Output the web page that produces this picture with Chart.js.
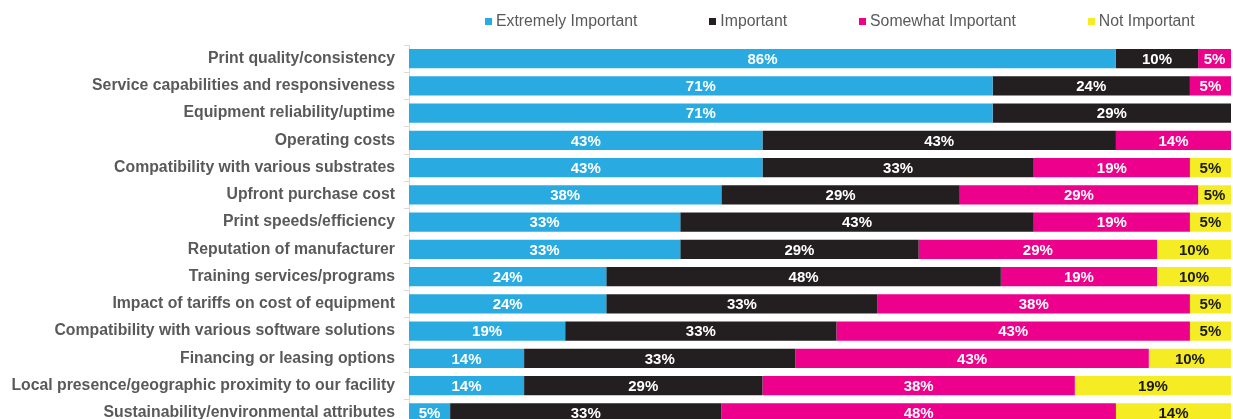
<!DOCTYPE html>
<html>
<head>
<meta charset="utf-8">
<title>Purchase factors</title>
<script src="https://cdn.jsdelivr.net/npm/chart.js@4.4.4/dist/chart.umd.min.js"></script>
<style>
  html, body { margin: 0; padding: 0; background: #fff; overflow: hidden; }
  #wrap { position: relative; width: 1233px; height: 419px; overflow: hidden; }
  #chart { position: absolute; left: 0; top: 0; }
  #legend {
    position: absolute; left: 485px; top: 11px; display: flex; align-items: center;
    font: 15.8px "Liberation Sans", Arial, sans-serif; color: #595959; line-height: 20px;
  }
  #legend .item { display: flex; align-items: center; margin-right: 72px; white-space: nowrap; }
  #legend .item:last-child { margin-right: 0; }
  #legend .sw { width: 7px; height: 7px; margin-right: 4px; }
</style>
</head>
<body>
<div id="wrap">
  <canvas id="chart" width="1233" height="445"></canvas>
  <div id="legend"></div>
</div>
<script>
/* ── Data ─────────────────────────────────────────────────────────── */
const CATEGORIES = [
  "Print quality/consistency",
  "Service capabilities and responsiveness",
  "Equipment reliability/uptime",
  "Operating costs",
  "Compatibility with various substrates",
  "Upfront purchase cost",
  "Print speeds/efficiency",
  "Reputation of manufacturer",
  "Training services/programs",
  "Impact of tariffs on cost of equipment",
  "Compatibility with various software solutions",
  "Financing or leasing options",
  "Local presence/geographic proximity to our facility",
  "Sustainability/environmental attributes"
];
const SERIES_NAMES = ["Extremely Important", "Important", "Somewhat Important", "Not Important"];
const EXTREMELY = [86, 71, 71, 43, 43, 38, 33, 33, 24, 24, 19, 14, 14, 5];
const IMPORTANT = [10, 24, 29, 43, 33, 29, 43, 29, 48, 33, 33, 33, 29, 33];
const SOMEWHAT  = [5, 5, null, 14, 19, 29, 19, 29, 19, 38, 43, 43, 38, 48];
const NOT_IMP   = [null, null, null, null, 5, 5, 5, 10, 10, 5, 5, 10, 19, 14];

const COLORS      = ["#29ABE2", "#231F20", "#EC008C", "#F5EC23"];
const LABEL_INK   = ["#FFFFFF", "#FFFFFF", "#FFFFFF", "#1A1A1A"];
const FONT_FAMILY = '"Liberation Sans", Arial, sans-serif';

/* ── Segment value labels ─────────────────────────────────────────── */
const segmentLabels = {
  id: "segmentLabels",
  afterDatasetsDraw(chart) {
    const { ctx, chartArea } = chart;
    ctx.save();
    ctx.font = "bold 15px " + FONT_FAMILY;
    ctx.textAlign = "center";
    ctx.textBaseline = "middle";
    chart.data.datasets.forEach((ds, di) => {
      chart.getDatasetMeta(di).data.forEach((bar, i) => {
        const v = ds.data[i];
        if (!v) return;
        const x1 = Math.max(Math.min(bar.base, bar.x), chartArea.left);
        const x2 = Math.min(Math.max(bar.base, bar.x), chartArea.right);
        ctx.fillStyle = LABEL_INK[di];
        ctx.fillText(v + "%", (x1 + x2) / 2, bar.y + 1);
      });
    });
    ctx.restore();
  }
};

/* ── Chart ────────────────────────────────────────────────────────── */
const seriesData = [EXTREMELY, IMPORTANT, SOMEWHAT, NOT_IMP];

const chart = new Chart(document.getElementById("chart"), {
  type: "bar",
  data: {
    labels: CATEGORIES,
    datasets: SERIES_NAMES.map((name, i) => ({
      label: name,
      data: seriesData[i],
      backgroundColor: COLORS[i],
      borderWidth: 0,
      categoryPercentage: 1,
      barPercentage: 0.7
    }))
  },
  options: {
    indexAxis: "y",
    responsive: false,
    animation: false,
    layout: { padding: { top: 45, bottom: 4, right: 2, left: 0 } },
    plugins: { legend: { display: false }, tooltip: { enabled: false } },
    scales: {
      x: { stacked: true, display: false, min: 0, max: 100 },
      y: {
        stacked: true,
        afterFit(scale) { scale.width = 409; },
        border: { display: true, color: "#D9D9D9", width: 1 },
        grid: { drawOnChartArea: false, drawTicks: true, tickLength: 5, color: "#D9D9D9" },
        ticks: {
          padding: 9,
          color: "#595959",
          font: { family: FONT_FAMILY, size: 15.8, weight: "bold" }
        }
      }
    }
  },
  plugins: [segmentLabels]
});

/* ── Legend ───────────────────────────────────────────────────────── */
document.getElementById("legend").innerHTML = SERIES_NAMES.map((name, i) =>
  `<span class="item"><span class="sw" style="background:${COLORS[i]}"></span>${name}</span>`
).join("");
</script>
</body>
</html>
